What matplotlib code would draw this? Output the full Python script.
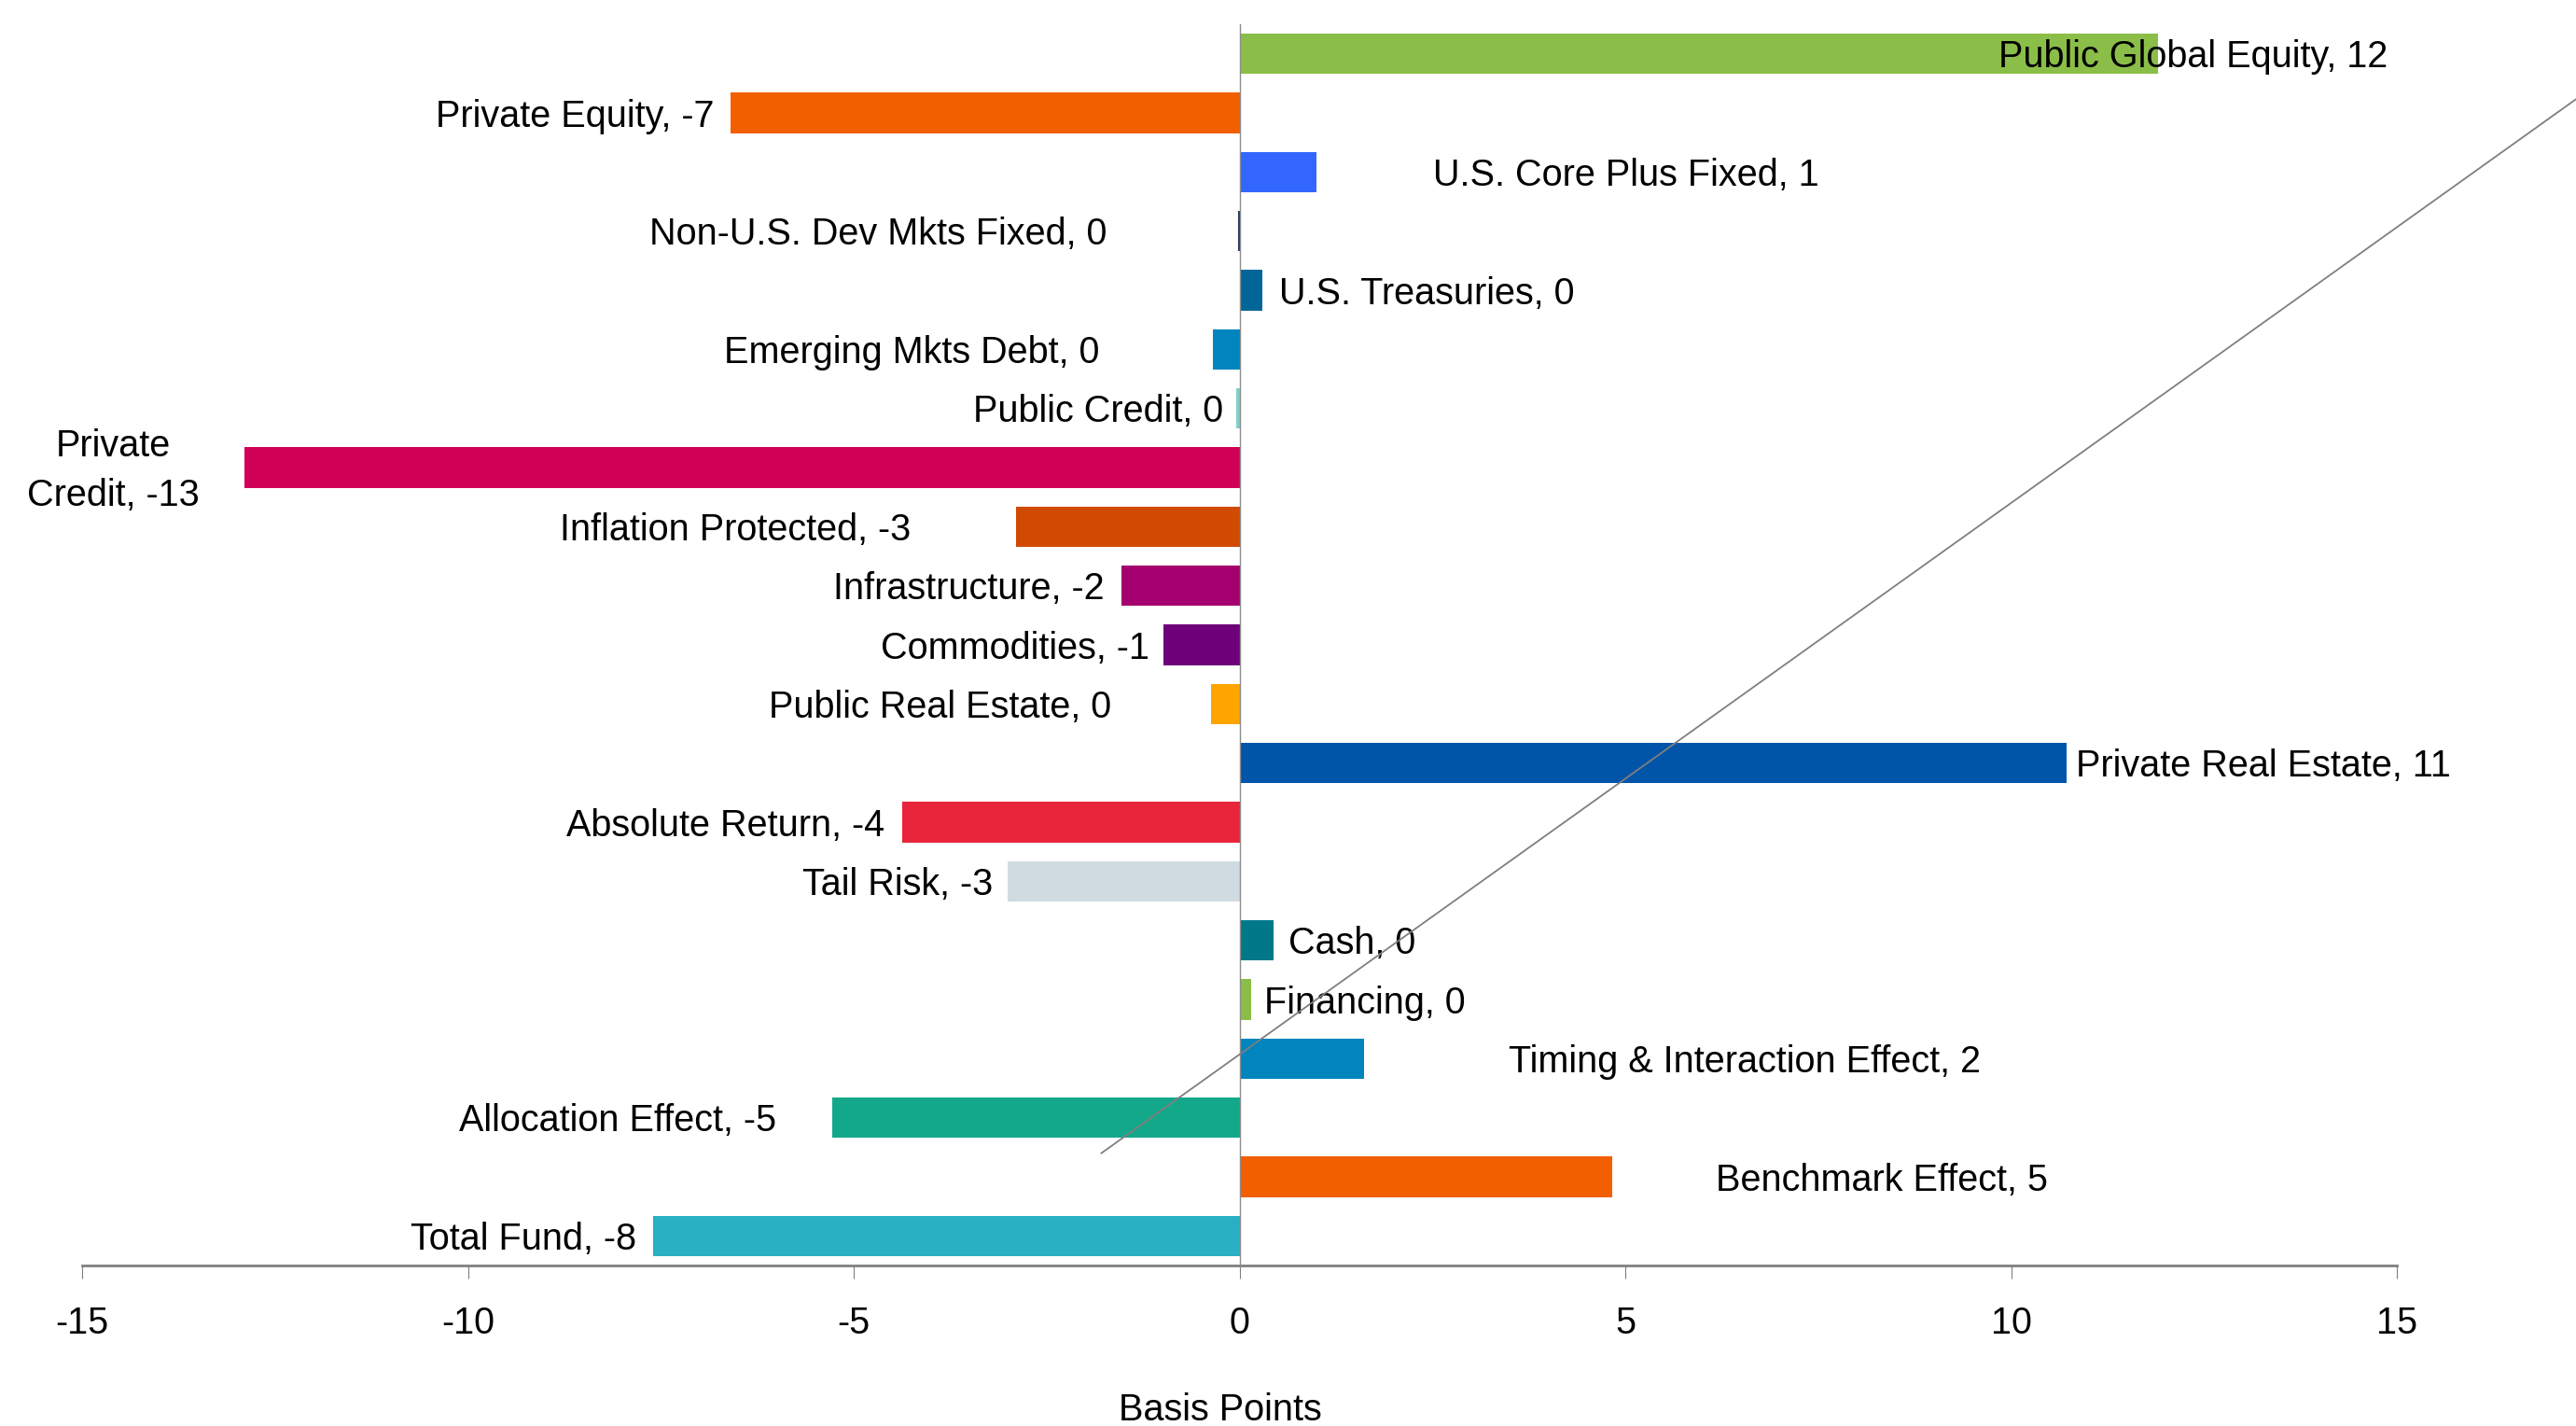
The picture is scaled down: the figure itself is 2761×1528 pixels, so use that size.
import matplotlib
matplotlib.use("Agg")
import matplotlib.pyplot as plt
from matplotlib.lines import Line2D

plt.rcParams['font.family'] = ['Liberation Sans', 'DejaVu Sans']

categories = [
    "Public Global Equity", "Private Equity", "U.S. Core Plus Fixed",
    "Non-U.S. Dev Mkts Fixed", "U.S. Treasuries", "Emerging Mkts Debt",
    "Public Credit", "Private Credit", "Inflation Protected", "Infrastructure",
    "Commodities", "Public Real Estate", "Private Real Estate", "Absolute Return",
    "Tail Risk", "Cash", "Financing", "Timing & Interaction Effect",
    "Allocation Effect", "Benchmark Effect", "Total Fund",
]
values = [11.9, -6.6, 1.0, -0.02, 0.3, -0.34, -0.04, -12.9, -2.9, -1.53,
          -0.98, -0.37, 10.72, -4.37, -3.0, 0.44, 0.15, 1.62, -5.28, 4.83, -7.6]
colors = ["#8BBE48", "#F25F00", "#3366FF", "#1F3A5F", "#006699", "#0085BF",
          "#7FD1C8", "#D10057", "#D04A02", "#A5006F", "#6E007A", "#FFA500",
          "#0055A8", "#E8253A", "#CFDBE0", "#00788A", "#8BBE48", "#0085BF",
          "#13A88A", "#F25F00", "#29B0C3"]
x_ticks = [-15, -10, -5, 0, 5, 10, 15]

# label placement (data units) and alignment
label_x = [9.84, -6.81, 2.51, -1.72, 0.51, -1.81, -0.21, -14.6, -4.26, -1.75,
           -1.17, -1.66, 10.84, -4.6, -3.19, 0.64, 0.32, 3.49, -6.0, 6.17, -7.81]
label_ha = ["left", "right", "left", "right", "left", "right", "right", "center",
            "right", "right", "right", "right", "left", "right", "right", "left",
            "left", "left", "right", "left", "right"]
wrap_labels = {"Private Credit": "Private\nCredit"}

# stray connector line in the original (data units)
diag_x = [-1.79, 17.33]
diag_y = [18.6, 0.76]

fig = plt.figure(figsize=(27.61, 15.28), dpi=100)
ax = fig.add_axes([88/2761, 1 - 1356/1528, (2569-88)/2761, (1356-26)/1528])

ypos = list(range(len(categories)))
ax.barh(ypos, values, height=0.68, color=colors, zorder=2)

for i, (name, v) in enumerate(zip(categories, values)):
    r = int(round(v))
    txt = f"{wrap_labels.get(name, name)}, {r}"
    ax.annotate(txt, (label_x[i], i), xytext=(0, -2.6), textcoords='offset points',
                ha=label_ha[i], va='center', fontsize=28.5,
                color='black', linespacing=1.5, zorder=4)

ax.set_xlim(-15, 15)
ax.set_ylim(len(categories) - 0.5, -0.5)
ax.set_xticks(x_ticks)
ax.set_xticklabels([str(t) for t in x_ticks])
ax.set_yticks([])

for s in ['top', 'right']:
    ax.spines[s].set_visible(False)
ax.spines['left'].set_position(('data', 0))
ax.spines['left'].set_color('#8c8c8c')
ax.spines['left'].set_linewidth(1.0)
ax.spines['left'].set_zorder(3)
ax.spines['bottom'].set_color('#7f7f7f')
ax.spines['bottom'].set_linewidth(2.0)

ax.tick_params(axis='x', direction='out', length=10, width=0.8, color='#7f7f7f',
               pad=21, labelsize=28.5, labelcolor='black')

ax.set_xlabel("Basis Points", fontsize=28.5)
ax.xaxis.set_label_coords(0.4917, -0.1166)
ax.xaxis.label.set_va('center')

ax.add_line(Line2D(diag_x, diag_y, color='#7f7f7f', lw=1.3, clip_on=False, zorder=5))

fig.savefig("out.png", dpi=100, facecolor='white')
